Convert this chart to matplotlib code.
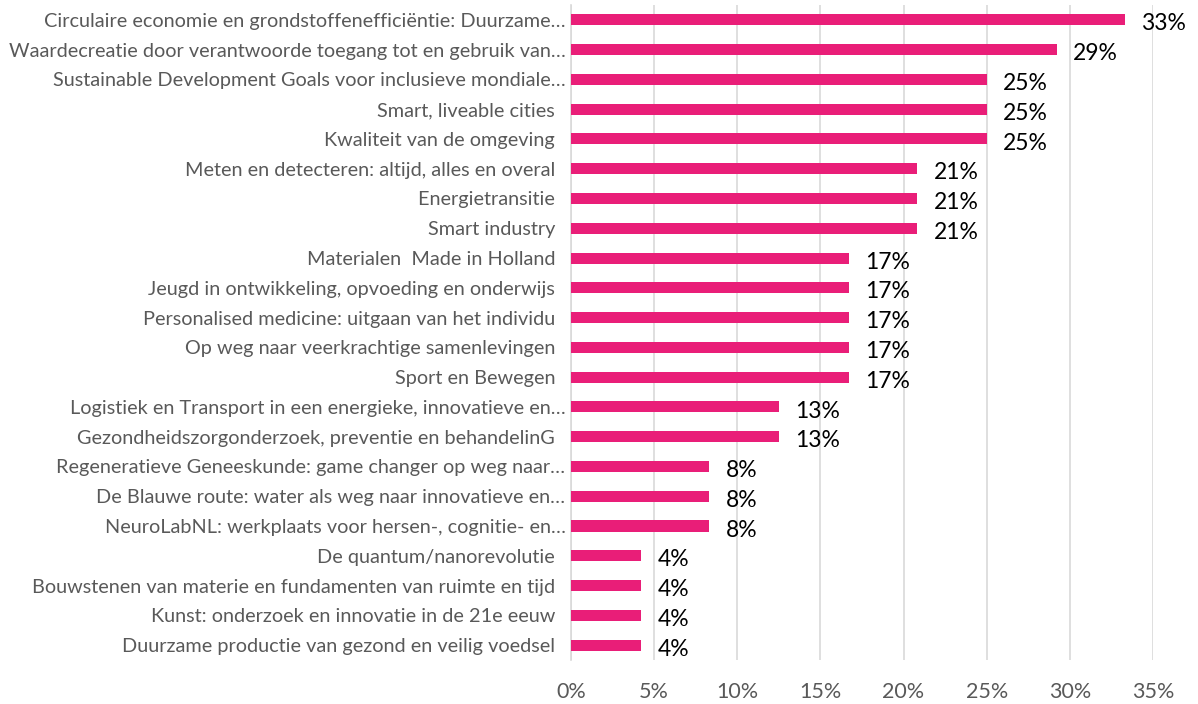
import matplotlib
matplotlib.use("Agg")
from matplotlib import pyplot as plt

plt.rcParams['font.family'] = ['Lato', 'DejaVu Sans']

# topics, top to bottom, with share of respondents (%)
topics = [
    "Circulaire economie en grondstoffenefficiëntie: Duurzame…",
    "Waardecreatie door verantwoorde toegang tot en gebruik van…",
    "Sustainable Development Goals voor inclusieve mondiale…",
    "Smart, liveable cities  ",
    "Kwaliteit van de omgeving  ",
    "Meten en detecteren: altijd, alles en overal  ",
    "Energietransitie  ",
    "Smart industry  ",
    "Materialen  Made in Holland  ",
    "Jeugd in ontwikkeling, opvoeding en onderwijs  ",
    "Personalised medicine: uitgaan van het individu  ",
    "Op weg naar veerkrachtige samenlevingen  ",
    "Sport en Bewegen  ",
    "Logistiek en Transport in een energieke, innovatieve en…",
    "Gezondheidszorgonderzoek, preventie en behandelinG  ",
    "Regeneratieve Geneeskunde: game changer op weg naar…",
    "De Blauwe route: water als weg naar innovatieve en…",
    "NeuroLabNL: werkplaats voor hersen-, cognitie- en…",
    "De quantum/nanorevolutie  ",
    "Bouwstenen van materie en fundamenten van ruimte en tijd  ",
    "Kunst: onderzoek en innovatie in de 21e eeuw  ",
    "Duurzame productie van gezond en veilig voedsel  ",
]
shares = [33.3, 29.2, 25.0, 25.0, 25.0, 20.8, 20.8, 20.8, 16.7, 16.7, 16.7,
          16.7, 16.7, 12.5, 12.5, 8.3, 8.3, 8.3, 4.2, 4.2, 4.2, 4.2]
xticks = [0, 5, 10, 15, 20, 25, 30, 35]

bar_color = '#E91E78'
text_grey = '#595959'

fig = plt.figure(figsize=(11.98, 7.04), dpi=100)
ax = fig.add_axes([0.4766, 0.0625, 0.4858, 0.9305])

pos = list(range(len(topics)))
ax.barh(pos, shares, height=0.37, color=bar_color, zorder=3)

for y, v in zip(pos, shares):
    ax.annotate(f"{int(v + 0.5)}%", xy=(v, y), xytext=(12, -3),
                textcoords='offset points', va='center', ha='left',
                fontsize=16.5, color='black', zorder=4)

ax.set_ylim(len(topics) - 0.5, -0.5)
ax.set_xlim(0, 35)
ax.set_yticks(pos)
ax.set_yticklabels(topics, fontsize=14.3, color=text_grey)
ax.set_xticks(xticks)
ax.set_xticklabels([f"{t}%" for t in xticks], fontsize=15.5, color=text_grey)
ax.tick_params(axis='y', length=0, pad=4)
ax.tick_params(axis='x', length=0, pad=16)

ax.grid(axis='x', color='#D9D9D9', linewidth=1.2, zorder=0)
for s in ['top', 'right', 'bottom']:
    ax.spines[s].set_visible(False)
ax.spines['left'].set_color('#D9D9D9')
ax.spines['left'].set_linewidth(1.2)

plt.savefig('out.png', dpi=100)
print("Plot Created!")
